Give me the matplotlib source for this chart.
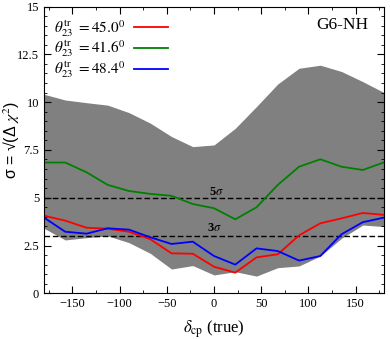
import numpy as np
import matplotlib
matplotlib.use("Agg")
import matplotlib.pyplot as plt

plt.rcParams['font.family'] = ['Liberation Serif', 'DejaVu Serif']
plt.rcParams['mathtext.fontset'] = 'stix'

delta_cp = [-180, -157.5, -135, -112.5, -90, -67.5, -45, -22.5, 0,
            22.5, 45, 67.5, 90, 112.5, 135, 157.5, 180]

band_upper = [10.41, 10.11, 9.97, 9.84, 9.45, 8.9, 8.2, 7.67, 7.76,
              8.63, 9.77, 10.95, 11.77, 11.93, 11.6, 11.07, 10.5]
band_lower = [3.4, 2.79, 2.91, 3.0, 2.65, 2.09, 1.27, 1.45, 0.96,
              1.13, 0.9, 1.34, 1.43, 1.95, 2.88, 3.57, 3.49]

sig_45 = [4.06, 3.8, 3.43, 3.38, 3.22, 2.83, 2.09, 2.07, 1.39,
          1.08, 1.88, 2.04, 3.03, 3.66, 3.92, 4.2, 4.1]
sig_416 = [6.84, 6.84, 6.33, 5.67, 5.35, 5.2, 5.1, 4.67, 4.45,
           3.87, 4.5, 5.67, 6.62, 7.01, 6.62, 6.45, 6.85]
sig_484 = [3.96, 3.22, 3.12, 3.4, 3.33, 2.93, 2.58, 2.7, 1.95,
           1.5, 2.35, 2.21, 1.71, 1.95, 3.09, 3.72, 3.96]

labels = [r'$\theta_{23}^{\rm tr}\ = 45.0^0$',
          r'$\theta_{23}^{\rm tr}\ = 41.6^0$',
          r'$\theta_{23}^{\rm tr}\ = 48.4^0$']
colors = ['#ff0000', '#008000', '#0000ff']

xticks = [-150, -100, -50, 0, 50, 100, 150]
xticklabels = ['\u2212150', '\u2212100', '\u221250', '0', '50', '100', '150']
yticks = [0, 2.5, 5, 7.5, 10, 12.5, 15]
yticklabels = ['0', '2.5', '5', '7.5', '10', '12.5', '15']

fig = plt.figure(figsize=(3.9, 3.39), dpi=100)
ax = fig.add_axes([0.1128, 0.1348, 0.872, 0.846])

ax.fill_between(delta_cp, band_lower, band_upper, color='#808080', lw=0)
ax.axhline(5, color='black', ls='--', lw=1, dashes=(4, 2))
ax.axhline(3, color='black', ls='--', lw=1, dashes=(4, 2))
ax.text(3, 5.32, r'5$\sigma$', fontsize=9, ha='center', va='center', fontweight='bold')
ax.text(0, 3.4, r'3$\sigma$', fontsize=9, ha='center', va='center', fontweight='bold')

for ys, c, lab in zip([sig_45, sig_416, sig_484], colors, labels):
    ax.plot(delta_cp, ys, color=c, lw=1.3, label=lab)

leg = ax.legend(loc='upper left', bbox_to_anchor=(0.0, 0.995), frameon=False,
                fontsize=11, markerfirst=False, handlelength=2.2,
                labelspacing=0.0, borderaxespad=0.25, handletextpad=0.6)

ax.text(0.955, 0.935, 'G6-NH', transform=ax.transAxes, ha='right',
        va='center', fontsize=12.5)

ax.set_xlim(-180, 180)
ax.set_ylim(0, 15)
ax.set_xticks(xticks)
ax.set_xticks(np.arange(-175, 180, 25), minor=True)
ax.set_yticks(yticks)
ax.set_yticks(np.arange(0, 15.01, 0.5), minor=True)
ax.set_xticklabels(xticklabels)
ax.set_yticklabels(yticklabels)
ax.tick_params(which='both', direction='in', top=True, right=True,
               labelsize=9)
ax.tick_params(which='major', length=5)
ax.tick_params(which='minor', length=2.5)

ax.set_xlabel(r'$\delta_{\rm cp}$ (true)', fontsize=12, labelpad=6)
ax.set_ylabel('\u03c3 = \u221a(\u0394 $\\chi^2$)', fontsize=11.5,
              family=['Liberation Sans', 'DejaVu Sans'])
ax.yaxis.set_label_coords(-0.068, 0.535)

fig.savefig('out.png', dpi=100)
